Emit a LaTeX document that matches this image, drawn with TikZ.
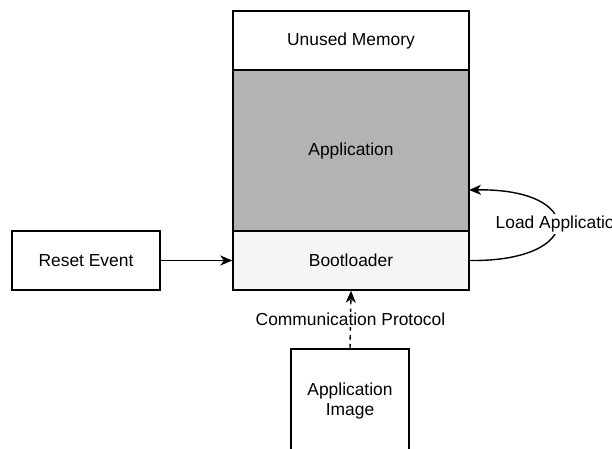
\documentclass[tikz,border=0pt]{standalone}
\usepackage{fontspec}
\setmainfont{Liberation Sans}
\usetikzlibrary{arrows.meta}
\definecolor{appgray}{HTML}{B3B3B3}
\definecolor{bootgray}{HTML}{F5F5F5}
\tikzset{
  blk/.style={draw=black, line width=1.4pt, inner sep=0pt, align=center,
    font=\fontsize{17.4}{20.5}\selectfont},
  lbl/.style={fill=white, inner sep=1.5pt, font=\fontsize{17.4}{20.5}\selectfont},
  arr/.style={line width=1.4pt, -{Stealth[length=12pt,width=10pt,inset=3.5pt]}},
}
\begin{document}
\begin{tikzpicture}[x=1pt,y=-1pt]
\useasboundingbox (0,0) rectangle (612,448);
\clip (0,0) rectangle (612,448);
\node[blk, minimum width=236pt, minimum height=59pt] (unused) at (351,40.5) {Unused Memory};
\node[blk, fill=appgray, minimum width=236pt, minimum height=161pt] (app) at (351,150.5) {Application};
\node[blk, fill=bootgray, minimum width=236pt, minimum height=59pt] (boot) at (351,260.5) {Bootloader};
\node[blk, minimum width=148pt, minimum height=59pt] (reset) at (86,260.5) {Reset Event};
\node[blk, minimum width=118pt, minimum height=104pt] (img) at (350,401) {Application\\Image};
\draw[arr] (reset.east) -- (boot.west);
\draw[arr, dash pattern=on 4.4pt off 4.4pt] (img.north) -- (boot.south) node[lbl, midway] (comm) {Communication Protocol};
\coordinate (bootr) at (boot.east);
\coordinate (appr) at (469,190);
\draw[arr] (bootr) .. controls (586,262) and (586,188) .. (appr);
\node[lbl, anchor=west] (load) at (494,224) {Load Application};
\end{tikzpicture}
\end{document}
